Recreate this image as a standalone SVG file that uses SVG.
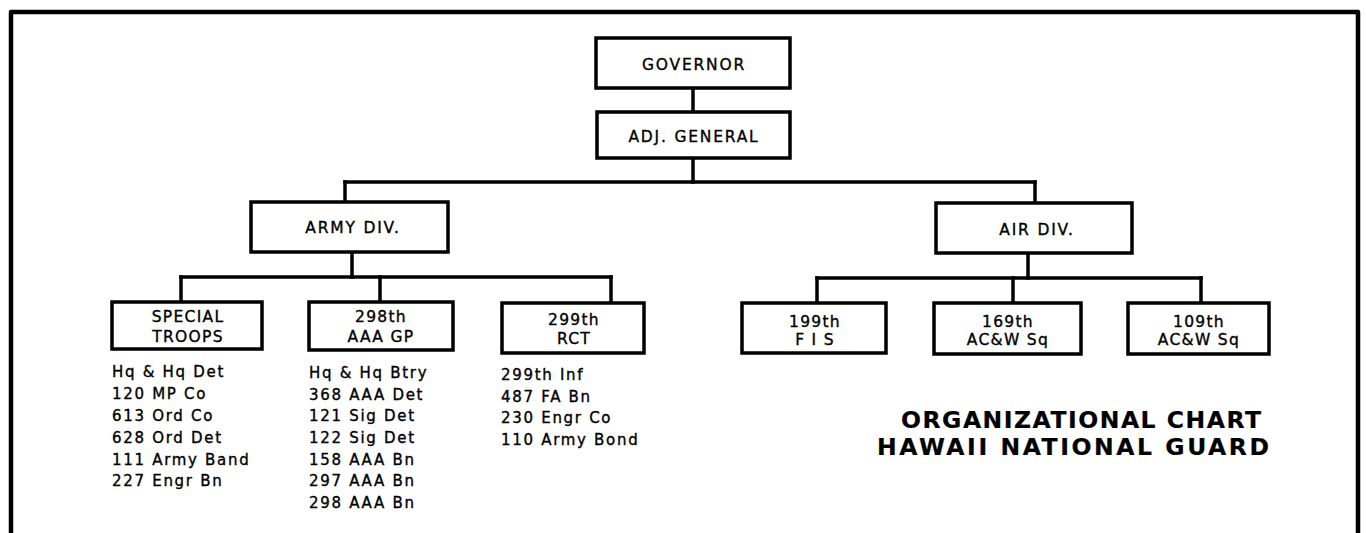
<svg xmlns="http://www.w3.org/2000/svg" width="1366" height="533" viewBox="0 0 1366 533">
<style>
  .frame { fill: none; stroke: #000; stroke-width: 4.5; stroke-linejoin: round; }
  .box rect { fill: #fff; stroke: #000; stroke-width: 3.5; }
  .conn line { stroke: #000; stroke-width: 3.5; stroke-linecap: square; }
  text { font-family: "DejaVu Sans", "Liberation Sans", sans-serif; fill: #000; stroke: #000; stroke-width: 0.35px; }
  .hd { font-size: 15.5px; letter-spacing: 1.8px; text-anchor: middle; }
  .lb { font-size: 15.5px; letter-spacing: 1.3px; text-anchor: middle; }
  .ls { font-size: 15px; letter-spacing: 1.7px; }
  .tt { font-size: 23.5px; font-weight: bold; text-anchor: middle; stroke-width: 0.2px; }
</style>
<rect width="1366" height="533" fill="#fff" stroke="none"/>
<path class="frame" d="M11,533 L11,12 L1358,12 L1358,533"/>

<g id="connectors" class="conn">
  <line x1="693" y1="88" x2="693" y2="112"/>
  <line x1="693" y1="158" x2="693" y2="182"/>
  <line x1="345" y1="182" x2="1035" y2="182"/>
  <line x1="345" y1="182" x2="345" y2="202"/>
  <line x1="1035" y1="182" x2="1035" y2="203"/>
  <line x1="352" y1="252" x2="352" y2="277"/>
  <line x1="181" y1="277" x2="611" y2="277"/>
  <line x1="181" y1="277" x2="181" y2="302"/>
  <line x1="380" y1="277" x2="380" y2="302"/>
  <line x1="611" y1="277" x2="611" y2="303"/>
  <line x1="1028" y1="253" x2="1028" y2="278"/>
  <line x1="817" y1="278" x2="1201" y2="278"/>
  <line x1="817" y1="278" x2="817" y2="303"/>
  <line x1="1013" y1="278" x2="1013" y2="303"/>
  <line x1="1201" y1="278" x2="1201" y2="303"/>
</g>

<g id="governor" class="box">
  <rect x="596" y="38" width="194" height="50"/>
  <text class="hd" x="694" y="70">GOVERNOR</text>
</g>
<g id="adj-general" class="box">
  <rect x="597" y="112" width="193" height="46"/>
  <text class="hd" x="694" y="142">ADJ. GENERAL</text>
</g>
<g id="army-div" class="box">
  <rect x="251" y="202" width="197" height="50"/>
  <text class="hd" x="353" y="233">ARMY DIV.</text>
</g>
<g id="air-div" class="box">
  <rect x="936" y="203" width="196" height="50"/>
  <text class="hd" x="1037" y="235">AIR DIV.</text>
</g>

<g id="special-troops" class="box">
  <rect x="112" y="302" width="150" height="47"/>
  <text class="lb" x="188" y="322">SPECIAL</text>
  <text class="lb" x="188" y="342">TROOPS</text>
</g>
<g id="aaa-gp-298" class="box">
  <rect x="309" y="302" width="144" height="48"/>
  <text class="lb" x="381" y="322">298th</text>
  <text class="lb" x="381" y="342">AAA GP</text>
</g>
<g id="rct-299" class="box">
  <rect x="502" y="303" width="142" height="50"/>
  <text class="lb" x="574" y="325">299th</text>
  <text class="lb" x="574" y="344">RCT</text>
</g>
<g id="fis-199" class="box">
  <rect x="742" y="303" width="144" height="50"/>
  <text class="lb" x="815" y="327">199th</text>
  <text class="lb" x="815" y="345">F I S</text>
</g>
<g id="acw-169" class="box">
  <rect x="934" y="303" width="147" height="51"/>
  <text class="lb" x="1008" y="327">169th</text>
  <text class="lb" x="1008" y="345">AC&amp;W Sq</text>
</g>
<g id="acw-109" class="box">
  <rect x="1128" y="303" width="141" height="51"/>
  <text class="lb" x="1199" y="327">109th</text>
  <text class="lb" x="1199" y="345">AC&amp;W Sq</text>
</g>

<g id="list-special-troops">
  <text class="ls" x="112" y="377">Hq &amp; Hq Det</text>
  <text class="ls" x="112" y="399">120 MP Co</text>
  <text class="ls" x="112" y="421">613 Ord Co</text>
  <text class="ls" x="112" y="443">628 Ord Det</text>
  <text class="ls" x="112" y="465">111 Army Band</text>
  <text class="ls" x="112" y="486">227 Engr Bn</text>
</g>
<g id="list-aaa-gp">
  <text class="ls" x="309" y="378">Hq &amp; Hq Btry</text>
  <text class="ls" x="309" y="400">368 AAA Det</text>
  <text class="ls" x="309" y="421">121 Sig Det</text>
  <text class="ls" x="309" y="443">122 Sig Det</text>
  <text class="ls" x="309" y="465">158 AAA Bn</text>
  <text class="ls" x="309" y="486">297 AAA Bn</text>
  <text class="ls" x="309" y="508">298 AAA Bn</text>
</g>
<g id="list-rct">
  <text class="ls" x="501" y="380">299th Inf</text>
  <text class="ls" x="501" y="402">487 FA Bn</text>
  <text class="ls" x="501" y="423">230 Engr Co</text>
  <text class="ls" x="501" y="445">110 Army Bond</text>
</g>

<g id="title">
  <text class="tt" x="1081" y="428" textLength="360" lengthAdjust="spacing">ORGANIZATIONAL CHART</text>
  <text class="tt" x="1073" y="455" textLength="392" lengthAdjust="spacing">HAWAII NATIONAL GUARD</text>
</g>
</svg>
